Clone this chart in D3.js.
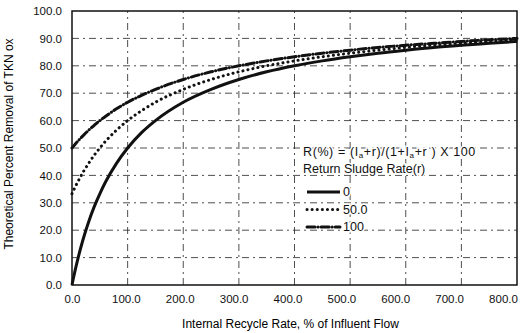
<!DOCTYPE html>
<html>
<head>
<meta charset="utf-8">
<style>
  body { margin: 0; background: #fff; }
  svg { display: block; font-family: 'Liberation Sans', Arial, sans-serif; }
  .grid line { stroke: #222; stroke-width: 0.8; stroke-dasharray: 7,4,2,4; }
  .tick text { font-size: 11.5px; fill: #111; }
  .halo { paint-order: stroke; stroke: #fff; stroke-width: 3px; }
</style>
</head>
<body>
<svg width="524" height="333"></svg>
<script src="https://cdnjs.cloudflare.com/ajax/libs/d3/7.8.5/d3.min.js"></script>
<script>
// internal recycle rate (% of influent flow)
let recycle = [0, 2, 5, 10, 20, 30, 40, 50, 60, 80, 100, 125, 150, 200, 250, 300, 350, 400, 450, 500, 550, 600, 650, 700, 750, 800];
// percent removal, one list per return sludge rate
let sludge0 = [0, 2.0, 4.8, 9.1, 16.7, 23.1, 28.6, 33.3, 37.5, 44.4, 50.0, 55.6, 60.0, 66.7, 71.4, 75.0, 77.8, 80.0, 81.8, 83.3, 84.6, 85.7, 86.7, 87.5, 88.2, 88.9];
let sludge50 = [33.3, 34.2, 35.5, 37.5, 41.2, 44.4, 47.4, 50.0, 52.4, 56.5, 60.0, 63.6, 66.7, 71.4, 75.0, 77.8, 80.0, 81.8, 83.3, 84.6, 85.7, 86.7, 87.5, 88.2, 88.9, 89.5];
let sludge100 = [50.0, 50.5, 51.2, 52.4, 54.5, 56.5, 58.3, 60.0, 61.5, 64.3, 66.7, 69.2, 71.4, 75.0, 77.8, 80.0, 81.8, 83.3, 84.6, 85.7, 86.7, 87.5, 88.2, 88.9, 89.5, 90.0];
let seriesNames = ["0", "50.0", "100"];
let xTicks = [0, 100, 200, 300, 400, 500, 600, 700, 800];
let yTicks = [0, 10, 20, 30, 40, 50, 60, 70, 80, 90, 100];

let svg = d3.select("svg");
let margin = { top: 11, right: 7, bottom: 48, left: 72 };
let width = 524 - margin.left - margin.right;
let height = 333 - margin.top - margin.bottom;

let x = d3.scaleLinear().domain([0, 800]).range([margin.left, margin.left + width]);
let y = d3.scaleLinear().domain([0, 100]).range([margin.top + height, margin.top]);

// grid
let grid = svg.append("g").attr("class", "grid");
grid.selectAll(".h").data(yTicks.slice(1, -1)).join("line")
  .attr("x1", x(0)).attr("x2", x(800))
  .attr("y1", d => y(d)).attr("y2", d => y(d));
grid.selectAll(".v").data(xTicks.slice(1, -1)).join("line")
  .attr("class", "v")
  .attr("y1", y(0)).attr("y2", y(100))
  .attr("x1", d => x(d)).attr("x2", d => x(d));

// frame
svg.append("rect")
  .attr("x", x(0)).attr("y", y(100))
  .attr("width", x(800) - x(0)).attr("height", y(0) - y(100))
  .attr("fill", "none").attr("stroke", "#111").attr("stroke-width", 1.5);

let xAxis = svg.append("g")
  .attr("transform", `translate(0,${y(0)})`)
  .call(d3.axisBottom(x).tickValues(xTicks).tickSize(0).tickPadding(10).tickFormat(d3.format(".1f")));
xAxis.select(".domain").remove();
// the scanned labels drift left of their ticks toward the right end
xAxis.selectAll(".tick text").attr("dx", d => -d / 800 * 14);

let yAxis = svg.append("g")
  .attr("transform", `translate(${x(0)},0)`)
  .call(d3.axisLeft(y).tickValues(yTicks).tickSize(0).tickPadding(10).tickFormat(d3.format(".1f")));
yAxis.select(".domain").remove();

svg.append("text")
  .attr("x", x(400) - 4).attr("y", 328)
  .attr("text-anchor", "middle").attr("font-size", 12)
  .text("Internal Recycle Rate, % of Influent Flow");

svg.append("text")
  .attr("transform", `translate(13,${y(50) - 4}) rotate(-90)`)
  .attr("text-anchor", "middle").attr("font-size", 12)
  .text("Theoretical Percent Removal of TKN ox");

// curves
let styles = [
  { w: 3, dash: null, cap: "butt" },
  { w: 3, dash: "0.1,5", cap: "round" },
  { w: 3, dash: "8,3,0.1,3", cap: "round" }
];
let allSeries = [sludge0, sludge50, sludge100];
let line = d3.line()
  .x((d, i) => x(recycle[i]))
  .y(d => y(d))
  .curve(d3.curveMonotoneX);

svg.append("g").selectAll("path").data(allSeries).join("path")
  .attr("d", d => line(d))
  .attr("fill", "none")
  .attr("stroke", "#111")
  .attr("stroke-width", (d, i) => styles[i].w)
  .attr("stroke-linecap", (d, i) => styles[i].cap)
  .attr("stroke-dasharray", (d, i) => styles[i].dash);

// legend
let leg = svg.append("g").attr("font-size", 12.5).attr("fill", "#111");
let formula = leg.append("text").attr("class", "halo").attr("x", 303).attr("y", 156)
  .attr("letter-spacing", 0.6);
formula.append("tspan").text("R(%) = (I");
formula.append("tspan").attr("font-size", 8).attr("dy", 2).text("a");
formula.append("tspan").attr("dy", -2).text("+r)/(1+I");
formula.append("tspan").attr("font-size", 8).attr("dy", 2).text("a");
formula.append("tspan").attr("dy", -2).text("+r ) X 100");
leg.append("text").attr("class", "halo").attr("x", 303).attr("y", 173).text("Return Sludge Rate(r)");

seriesNames.forEach((name, i) => {
  let yy = 192 + i * 17.5;
  leg.append("line")
    .attr("x1", 307).attr("x2", 340).attr("y1", yy).attr("y2", yy)
    .attr("stroke", "#111")
    .attr("stroke-width", styles[i].w)
    .attr("stroke-linecap", styles[i].cap)
    .attr("stroke-dasharray", styles[i].dash);
  leg.append("text").attr("class", "halo").attr("x", 343).attr("y", yy + 4).text(name);
});
</script>
</body>
</html>
